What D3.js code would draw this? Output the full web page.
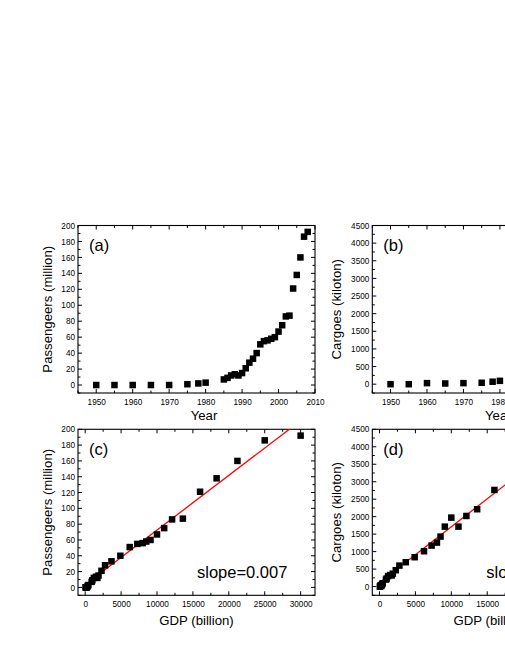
<!DOCTYPE html>
<html><head><meta charset="utf-8">
<script src="https://cdn.jsdelivr.net/npm/d3@7"></script>
<style>html,body{margin:0;padding:0;background:#fff;overflow:hidden}svg{display:block;font-family:"Liberation Sans",Arial,sans-serif}</style>
</head><body>
<svg id="c" width="505" height="654"></svg>
<script>
// ---- data ----
const years      = [1950,1955,1960,1965,1970,1975,1978,1980,1985,1986,1987,1988,1989,1990,1991,1992,1993,1994,1995,1996,1997,1998,1999,2000,2001,2002,2003,2004,2005,2006,2007,2008];
const passengers = [0,0,0,0,0,1,2,3,7,9,12,13.5,12,15,21,28,33,40,51,55,56,58,60,67,75,86,87,121,138,160,186,192];
const gdp        = [60,90,145,190,225,300,360,450,900,1000,1200,1500,1700,1860,2270,2770,3660,4900,6200,7260,8000,8500,9100,10000,11000,12100,13600,16000,18300,21200,25000,30000];
// cargo values visible in panels (b) and (d) (1950-2004)
const cargo      = [0,0,30,20,30,40,70,95,200,230,300,330,320,370,468,600,697,840,1011,1172,1258,1430,1715,1973,1715,2020,2213,2764];
const yearTicks  = [1950,1960,1970,1980,1990,2000,2010];
const gdpTicks   = [0,5000,10000,15000,20000,25000,30000];
const paxTicks   = [0,20,40,60,80,100,120,140,160,180,200];
const cargoTicks = [0,500,1000,1500,2000,2500,3000,3500,4000,4500];
const fitPax     = {slope:0.00692, intercept:3.3, label:"slope=0.007"};
const fitCargo   = {slope:0.16, intercept:110, label:"slope=0.16"};

const svg = d3.select("#c");
svg.append("rect").attr("width",505).attr("height",654).attr("fill","#fff");

const W = 237;
function panel(o){
  const g = svg.append("g").attr("transform",`translate(${o.left},${o.top})`);
  const H = o.h;
  const x = d3.scaleLinear().domain(o.xd).range([0,W]);
  const y = d3.scaleLinear().domain(o.yd).range([H,0]);
  const clipId = "clip"+o.id;
  g.append("clipPath").attr("id",clipId).append("rect").attr("width",W).attr("height",H);
  // ticks (inward) on all four sides
  const xMinor = d3.range(o.xd[0], o.xd[1]+1e-9, o.xMinor).filter(v=>v>=o.xd[0]&&v<=o.xd[1]);
  const yMinor = d3.range(Math.ceil(o.yd[0]/o.yMinor)*o.yMinor, o.yd[1]+1e-9, o.yMinor);
  const xm = d3.range(Math.ceil(o.xd[0]/o.xMinor)*o.xMinor, o.xd[1]+1e-9, o.xMinor);
  const isMaj = (v,step)=>Math.abs(v/step-Math.round(v/step))<1e-6;
  const tg = g.append("g").attr("stroke","#000").attr("stroke-width",1);
  xm.forEach(v=>{
    const L = isMaj(v,o.xMajor)?4:2.5, px=x(v);
    tg.append("line").attr("x1",px).attr("x2",px).attr("y1",H).attr("y2",H-L);
    tg.append("line").attr("x1",px).attr("x2",px).attr("y1",0).attr("y2",L);
  });
  yMinor.forEach(v=>{
    const L = isMaj(v,o.yMajor)?4:2.5, py=y(v);
    tg.append("line").attr("x1",0).attr("x2",L).attr("y1",py).attr("y2",py);
    tg.append("line").attr("x1",W).attr("x2",W-L).attr("y1",py).attr("y2",py);
  });
  g.append("rect").attr("width",W).attr("height",H).attr("fill","none").attr("stroke","#000").attr("stroke-width",1.1);
  // tick labels
  const xAxis = d3.axisBottom(x).tickValues(o.xTicks).tickSize(0).tickPadding(6).tickFormat(d3.format("d"));
  const ax = g.append("g").attr("transform",`translate(0,${H})`).call(xAxis);
  ax.select(".domain").remove();
  ax.selectAll("text").attr("font-size",8.2).attr("font-family","Liberation Sans, Arial").attr("fill","#000");
  const yAxis = d3.axisLeft(y).tickValues(o.yTicks).tickSize(0).tickPadding(3).tickFormat(d3.format("d"));
  const ay = g.append("g").call(yAxis);
  ay.select(".domain").remove();
  ay.selectAll("text").attr("font-size",8.2).attr("font-family","Liberation Sans, Arial").attr("fill","#000");
  // fit line
  const pg = g.append("g").attr("clip-path",`url(#${clipId})`);
  if(o.fit){
    const f=o.fit, x0=0, x1=o.fitEnd;
    pg.append("line").attr("x1",x(x0)).attr("y1",y(f.intercept+f.slope*x0))
      .attr("x2",x(x1)).attr("y2",y(f.intercept+f.slope*x1))
      .attr("stroke","#ff0000").attr("stroke-width",1.3);
  }
  const s=6.5;
  pg.selectAll("rect.pt").data(o.data).join("rect").attr("class","pt")
    .attr("x",d=>x(d[0])-s/2).attr("y",d=>y(d[1])-s/2).attr("width",s).attr("height",s).attr("fill","#000");
  // labels
  g.append("text").attr("x",11).attr("y",25.5).attr("font-size",16.5).text(o.tag);
  if(o.fit) g.append("text").attr("x",o.slopeX).attr("y",H-17).attr("font-size",16.5).text(o.fit.label);
  g.append("text").attr("x",o.xtX).attr("y",H+o.xtY).attr("font-size",13.2).attr("text-anchor","middle").text(o.xTitle);
  g.append("text").attr("transform",`translate(${-o.ytOff},${H/2}) rotate(-90)`).attr("font-size",13.2)
    .attr("text-anchor","middle").text(o.yTitle);
}

const paxYear   = years.map((v,i)=>[v,passengers[i]]);
const paxGdp    = gdp.map((v,i)=>[v,passengers[i]]);
const cargoYear = cargo.map((v,i)=>[years[i],v]);
const cargoGdp  = cargo.map((v,i)=>[gdp[i],v]);

panel({id:"a",left:78,top:225.5,h:167.5,xd:[1945,2010],yd:[-10,200],xTicks:yearTicks,yTicks:paxTicks,
  xMajor:10,xMinor:5,yMajor:20,yMinor:10,data:paxYear,tag:"(a)",xTitle:"Year",yTitle:"Passengeers (million)",
  xtX:126,xtY:27,ytOff:26});
panel({id:"c",left:78,top:429.3,h:166,xd:[-1000,32000],yd:[-10,200],xTicks:gdpTicks,yTicks:paxTicks,
  xMajor:5000,xMinor:2500,yMajor:20,yMinor:10,data:paxGdp,tag:"(c)",xTitle:"GDP (billion)",yTitle:"Passengeers (million)",
  xtX:118.5,xtY:30,ytOff:26,fit:fitPax,fitEnd:30000,slopeX:119});
panel({id:"b",left:372.3,top:225.5,h:167.5,xd:[1945,2010],yd:[-250,4500],xTicks:yearTicks,yTicks:cargoTicks,
  xMajor:10,xMinor:5,yMajor:500,yMinor:250,data:cargoYear,tag:"(b)",xTitle:"Year",yTitle:"Cargoes (kiloton)",
  xtX:126,xtY:27,ytOff:31});
panel({id:"d",left:372.3,top:429.3,h:166,xd:[-1000,32000],yd:[-250,4500],xTicks:gdpTicks,yTicks:cargoTicks,
  xMajor:5000,xMinor:2500,yMajor:500,yMinor:250,data:cargoGdp,tag:"(d)",xTitle:"GDP (billion)",yTitle:"Cargoes (kiloton)",
  xtX:118.5,xtY:30,ytOff:31,fit:fitCargo,fitEnd:30000,slopeX:114});
</script>
</body></html>
